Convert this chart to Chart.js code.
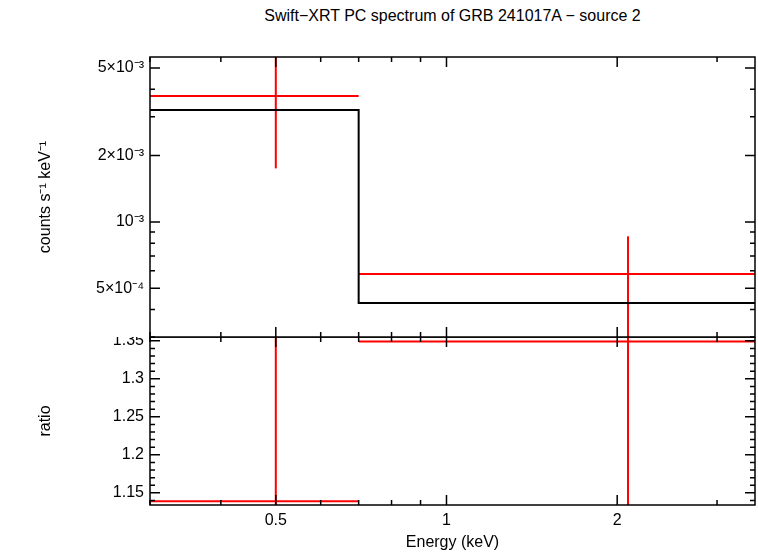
<!DOCTYPE html>
<html><head><meta charset="utf-8">
<script src="https://cdn.jsdelivr.net/npm/chart.js@4"></script>
<style>
body{margin:0;background:#fff;width:758px;height:556px;position:relative;overflow:hidden;font-family:"Liberation Sans",Arial,sans-serif}
#t{position:absolute;top:7px;left:150px;width:605px;text-align:center;font-size:16px}
#c1{position:absolute;left:0;top:0}
#c2{position:absolute;left:0;top:337px}
</style></head><body>
<div id="t">Swift−XRT PC spectrum of GRB 241017A − source 2</div>
<canvas id="c1" width="758" height="338"></canvas>
<canvas id="c2" width="758" height="219"></canvas>
<script>
const binLo=[0.3,0.70];
const binHi=[0.70,3.5];
const binCenter=[0.5,2.09];
const rate=[3.73e-3,5.8e-4];
const rateLo=[1.75e-3,1e-4];
const rateHi=[1e-2,8.6e-4];
const model=[3.22e-3,4.28e-4];
const ratio=[1.139,1.349];
const ratioLo=[1.0,1.0];
const ratioHi=[1.5,1.5];
const topTicks=[5e-4,1e-3,2e-3,5e-3];
const topTickLabels={"0.0005":"5×10⁻⁴","0.001":"10⁻³","0.002":"2×10⁻³","0.005":"5×10⁻³"};
const ratioTicks=[1.15,1.2,1.25,1.3,1.35];
const xTicks=[0.5,1,2];
const xTickLabels={"0.5":"0.5","1":"1","2":"2"};
const xMin=0.3,xMax=3.5;
Chart.defaults.font.family='"Liberation Sans",Arial,sans-serif';
Chart.defaults.font.size=16;
Chart.defaults.color='#000';
Chart.defaults.animation=false;

function errSets(c,v,lo,hi,bl,bh){
  const s=[];
  for(let i=0;i<c.length;i++){
    s.push({data:[{x:bl[i],y:v[i]},{x:bh[i],y:v[i]}]});
    s.push({data:[{x:c[i],y:lo[i]},{x:c[i],y:hi[i]}]});
  }
  return s.map(d=>Object.assign(d,{borderColor:'#f00',borderWidth:2,showLine:true,pointRadius:0}));
}
const frame={id:'frame',afterDraw(ch){
  const a=ch.chartArea,g=ch.ctx;g.save();g.strokeStyle='#000';g.lineWidth=1.5;
  g.strokeRect(a.left,a.top,a.right-a.left,a.bottom-a.top);
  const xs=ch.scales.x,ys=ch.scales.y;
  const minors=[];for(let d=0.1;d<10;d*=10)for(let k=1;k<10;k++)minors.push(d*k);
  minors.forEach(v=>{if(v<xMin||v>xMax)return;const p=xs.getPixelForValue(v);const L=xTicks.includes(+v.toFixed(3))?10:5;
    g.beginPath();g.moveTo(p,a.bottom);g.lineTo(p,a.bottom-L);g.moveTo(p,a.top);g.lineTo(p,a.top+L);g.stroke();});
  let yv=[];
  if(ys.type==='logarithmic'){for(let d=1e-4;d<1e-2;d*=10)for(let k=1;k<10;k++)yv.push(d*k);}
  else{for(let v=1.13;v<=1.36;v+=0.01)yv.push(+v.toFixed(2));}
  yv.forEach(v=>{if(v<ys.min||v>ys.max)return;const p=ys.getPixelForValue(v);
    const maj=ys.type==='logarithmic'?topTicks.some(t=>Math.abs(t-v)/t<1e-6):ratioTicks.some(t=>Math.abs(t-v)<1e-6);
    const L=maj?10:5;g.beginPath();g.moveTo(a.left,p);g.lineTo(a.left+L,p);g.moveTo(a.right,p);g.lineTo(a.right-L,p);g.stroke();});
  g.restore();}};

const modelPts=[];
for(let i=0;i<model.length;i++){modelPts.push({x:binLo[i],y:model[i]});modelPts.push({x:binHi[i],y:model[i]});}
function yFit(s){s.width=150;s.paddingTop=0;s.paddingBottom=0;}
new Chart(document.getElementById('c1'),{type:'scatter',
 data:{datasets:[{data:modelPts,borderColor:'#000',borderWidth:2,showLine:true,pointRadius:0}].concat(errSets(binCenter,rate,rateLo,rateHi,binLo,binHi))},
 options:{responsive:false,layout:{padding:{top:57,right:3,left:0,bottom:1}},
  plugins:{legend:{display:false},tooltip:{enabled:false}},
  scales:{x:{type:'logarithmic',min:xMin,max:xMax,display:false},
   y:{type:'logarithmic',min:3.05e-4,max:5.61e-3,
    afterFit:yFit,
    afterBuildTicks(s){s.ticks=topTicks.map(v=>({value:v}))},
    grid:{display:false,drawTicks:false},border:{display:false},
    ticks:{padding:6,callback:v=>topTickLabels[String(v)]||''},
    title:{display:true,text:'counts s⁻¹ keV⁻¹',padding:{top:36,bottom:0}}}}},
 plugins:[frame]});

new Chart(document.getElementById('c2'),{type:'scatter',
 data:{datasets:errSets(binCenter,ratio,ratioLo,ratioHi,binLo,binHi)},
 options:{responsive:false,layout:{padding:{top:0,right:3,left:0,bottom:0}},
  plugins:{legend:{display:false},tooltip:{enabled:false}},
  scales:{x:{type:'logarithmic',min:xMin,max:xMax,
    afterFit(s){s.height=51;s.paddingLeft=0;s.paddingRight=0;},
    afterBuildTicks(s){s.ticks=xTicks.map(v=>({value:v}))},
    grid:{display:false,drawTicks:false},border:{display:false},
    ticks:{padding:6,maxRotation:0,callback:v=>xTickLabels[String(v)]||''},
    title:{display:true,text:'Energy (keV)',padding:{top:0}}},
   y:{min:1.134,max:1.355,
    afterFit:yFit,
    afterBuildTicks(s){s.ticks=ratioTicks.map(v=>({value:v}))},
    grid:{display:false,drawTicks:false},border:{display:false},
    ticks:{padding:6,callback:v=>String(+v.toFixed(2))},
    title:{display:true,text:'ratio',padding:{top:36,bottom:0}}}}},
 plugins:[frame]});
</script></body></html>
